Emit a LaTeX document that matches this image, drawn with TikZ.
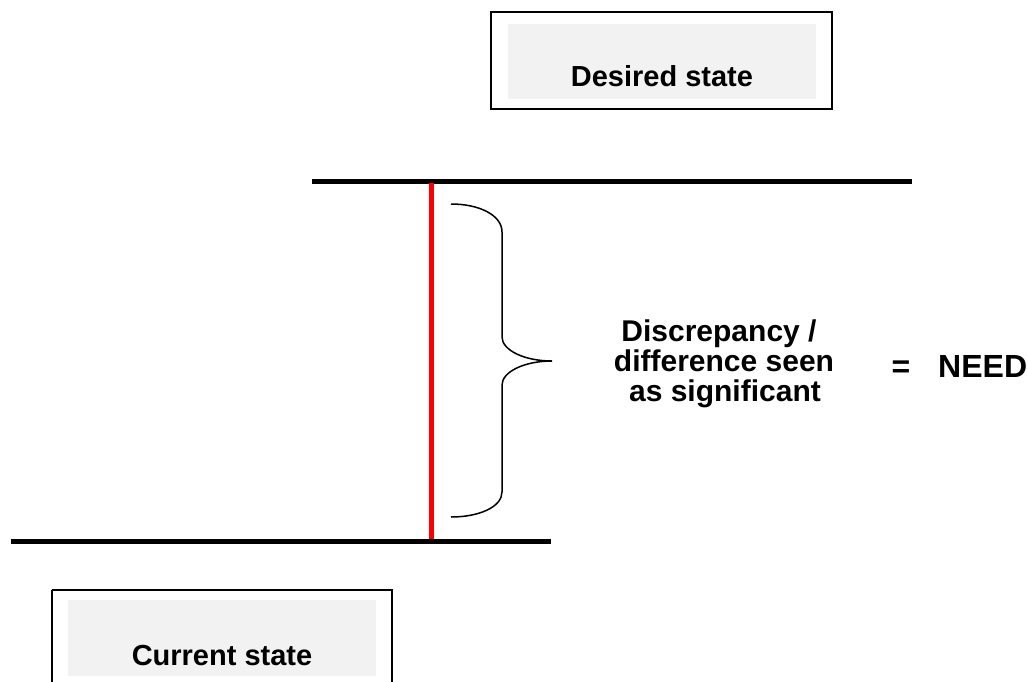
\documentclass[tikz,border=0pt]{standalone}
\usepackage{fontspec}
\setmainfont{Liberation Sans}
\tikzset{
  lbl/.style={font=\bfseries\fontsize{30}{30}\selectfont, inner sep=0pt, anchor=base},
  boxl/.style={font=\bfseries\fontsize{29}{29}\selectfont, inner sep=0pt, anchor=base},
  bigl/.style={font=\bfseries\fontsize{32}{32}\selectfont, inner sep=0pt, anchor=base},
  outerbox/.style={draw=black, line width=1.3pt, fill=white},
  innerbox/.style={fill=boxgray, draw=none},
  level/.style={line width=5pt, black},
  gap/.style={line width=5pt, red},
  bracestyle/.style={line width=1.5pt, black}
}
\definecolor{boxgray}{HTML}{F2F2F2}
\begin{document}
\begin{tikzpicture}[x=1pt,y=-1pt]
\useasboundingbox (0,0) rectangle (1028,681);
% desired state box
\draw[outerbox] (491,12) rectangle (832,109);
\fill[innerbox] (508,24) rectangle (816,99);
\node[boxl] (desired) at (662,86) {Desired state};
% current state box
\draw[outerbox] (52,590) -- (52,690) (52,590) -- (392,590) -- (392,690);
\fill[innerbox] (68,600) rectangle (376,676);
\node[boxl] (current) at (222,665) {Current state};
% levels
\coordinate (tl) at (312,181);
\coordinate (tr) at (912,181);
\coordinate (bl) at (11,541);
\coordinate (br) at (551,541);
\draw[level] (tl) -- (tr);
\draw[level] (bl) -- (br);
\coordinate (gtop) at (431.5,183);
\coordinate (gbot) at (431.5,539);
\draw[gap] (gtop) -- (gbot);
% brace
\coordinate (b1) at (451,204);
\coordinate (tip) at (552,361);
\coordinate (b2) at (451,517);
\draw[bracestyle] (b1) .. controls (479,204) and (502,215) .. (502,232)
  -- (502,337) .. controls (502,350) and (524,361) .. (tip)
  .. controls (524,361) and (502,372) .. (502,385)
  -- (502,492) .. controls (502,507) and (479,517) .. (b2);
% labels
\node[lbl] (l1) at (719,341) {Discrepancy /};
\node[lbl] (l2) at (724,371) {difference seen};
\node[lbl] (l3) at (725,401) {as significant};
\node[bigl] (eq) at (901,377) {=};
\node[bigl, anchor=base west] (need) at (938,377) {NEED};
\end{tikzpicture}
\end{document}
